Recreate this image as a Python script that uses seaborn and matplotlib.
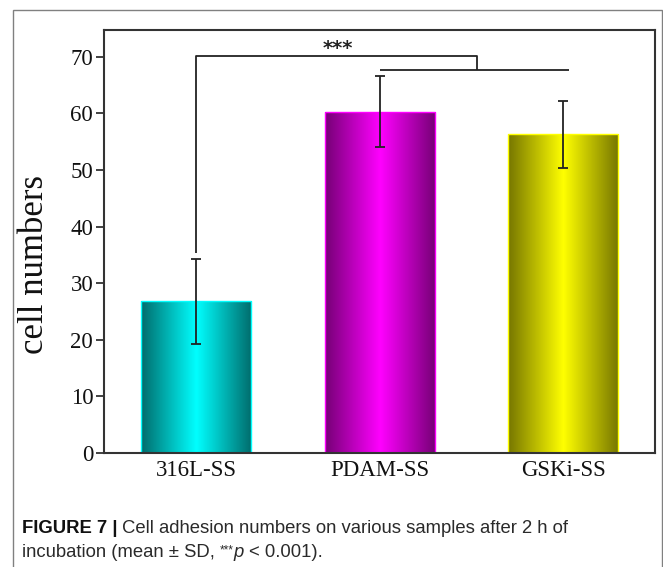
import numpy as np
import pandas as pd
import seaborn as sns
import matplotlib.pyplot as plt
from matplotlib.colors import to_rgb
from matplotlib.patches import Rectangle

# Data
samples = ["316L-SS", "PDAM-SS", "GSKi-SS"]
cell_mean = [26.8, 60.3, 56.3]
cell_sd = [7.5, 6.3, 5.9]
y_ticks = [0, 10, 20, 30, 40, 50, 60, 70]

# Bar colours: bright centre, dark edges
bright_colors = ["#00ffff", "#ff00ff", "#ffff00"]
dark_colors = ["#006c6c", "#760076", "#767600"]

W, H = 663, 567
SERIF = "Liberation Serif"
SANS = "Liberation Sans"


def gradient_image(dark, bright, n=200):
    t = np.linspace(0, 1, n)
    k = 1 - np.abs(2 * t - 1)
    d = np.array(to_rgb(dark))
    b = np.array(to_rgb(bright))
    row = d[None, :] + (b - d)[None, :] * k[:, None]
    return row[None, :, :]


def put_run(fig, x_px, y_px, pieces):
    # place text pieces one after the other on a baseline
    renderer = fig.canvas.get_renderer()
    for txt, kw, dy, gap in pieces:
        t = fig.text(x_px / W, (H - y_px + dy) / H, txt, ha="left", va="baseline", **kw)
        bb = t.get_window_extent(renderer)
        x_px = bb.x1 + gap


def main():
    sns.set_theme(style="white")
    plt.rcParams["font.family"] = [SERIF, "DejaVu Serif"]

    df = pd.DataFrame({"sample": samples, "cells": cell_mean})

    fig = plt.figure(figsize=(W / 100, H / 100), dpi=100)
    ax = fig.add_axes([104.3 / W, 1 - 453 / H, (655 - 104.3) / W, (453 - 29.5) / H])

    sns.barplot(
        data=df, x="sample", y="cells", hue="sample", palette=bright_colors,
        width=0.6, errorbar=None, legend=False, ax=ax,
    )

    # gradient fill clipped to each bar
    bars = list(ax.patches)
    for bar, dark, bright in zip(bars, dark_colors, bright_colors):
        x0, w, h = bar.get_x(), bar.get_width(), bar.get_height()
        img = ax.imshow(
            gradient_image(dark, bright), extent=[x0, x0 + w, 0, h],
            aspect="auto", interpolation="bilinear", zorder=1.5,
        )
        img.set_clip_path(bar)
        bar.set_facecolor("none")
        bar.set_edgecolor(bright)
        bar.set_linewidth(1.0)
        bar.set_zorder(2)

    centers = [b.get_x() + b.get_width() / 2 for b in bars]
    ax.errorbar(
        centers, cell_mean, yerr=cell_sd, fmt="none", ecolor="#222222",
        elinewidth=1.3, capsize=3.5, capthick=1.3, zorder=3,
    )

    # significance bracket: 316L-SS vs (PDAM-SS, GSKi-SS)
    line_kw = dict(color="#222222", lw=1.3, zorder=3, solid_capstyle="butt")
    ax.plot([centers[0], centers[0], 1.53, 1.53], [35.4, 70.2, 70.2, 67.6], **line_kw)
    ax.plot([centers[1], 2.03], [67.6, 67.6], **line_kw)
    ax.text(0.77, 71.4, "***", ha="center", va="center", fontsize=14,
            fontweight="bold", family=["DejaVu Sans"], color="#222222")

    ax.set_xlim(-0.5, 2.5)
    ax.set_ylim(0, 74.8)
    ax.set_yticks(y_ticks)
    ax.set_yticklabels([str(v) for v in y_ticks])
    ax.set_xlabel("")
    ax.set_ylabel("cell numbers", fontsize=25, color="#111111")
    ax.yaxis.set_label_coords(-0.096, 0.444)

    ax.tick_params(axis="y", left=True, direction="out", length=6, width=1.3,
                   color="#333333", labelsize=16.5, pad=2, labelcolor="#111111")
    ax.tick_params(axis="x", bottom=False, length=0, labelsize=16.5, pad=5,
                   labelcolor="#111111")
    for s in ax.spines.values():
        s.set_color("#333333")
        s.set_linewidth(1.5)

    # outer frame of the figure panel
    fig.add_artist(Rectangle((12.7 / W, -0.02), (661.5 - 12.7) / W, 1.02 - 10.3 / H,
                             transform=fig.transFigure, fill=False,
                             edgecolor="#808080", lw=1.0))

    # caption
    cap = dict(family=[SANS, "DejaVu Sans"], fontsize=13.3, color="#2a2a2a")
    capb = dict(cap, fontweight="bold", color="#111111")
    capi = dict(cap, style="italic")
    caps = dict(cap, fontsize=8.5)
    put_run(fig, 22, 533, [
        ("FIGURE 7 |", capb, 0, 5),
        ("Cell adhesion numbers on various samples after 2 h of", cap, 0, 0),
    ])
    put_run(fig, 22, 557, [
        ("incubation (mean \u00b1 SD,", cap, 0, 5),
        ("***", caps, 4, 0),
        ("p", capi, 0, 5),
        ("< 0.001).", cap, 0, 0),
    ])

    fig.savefig("out.png", dpi=100)
    plt.close(fig)


if __name__ == "__main__":
    main()
